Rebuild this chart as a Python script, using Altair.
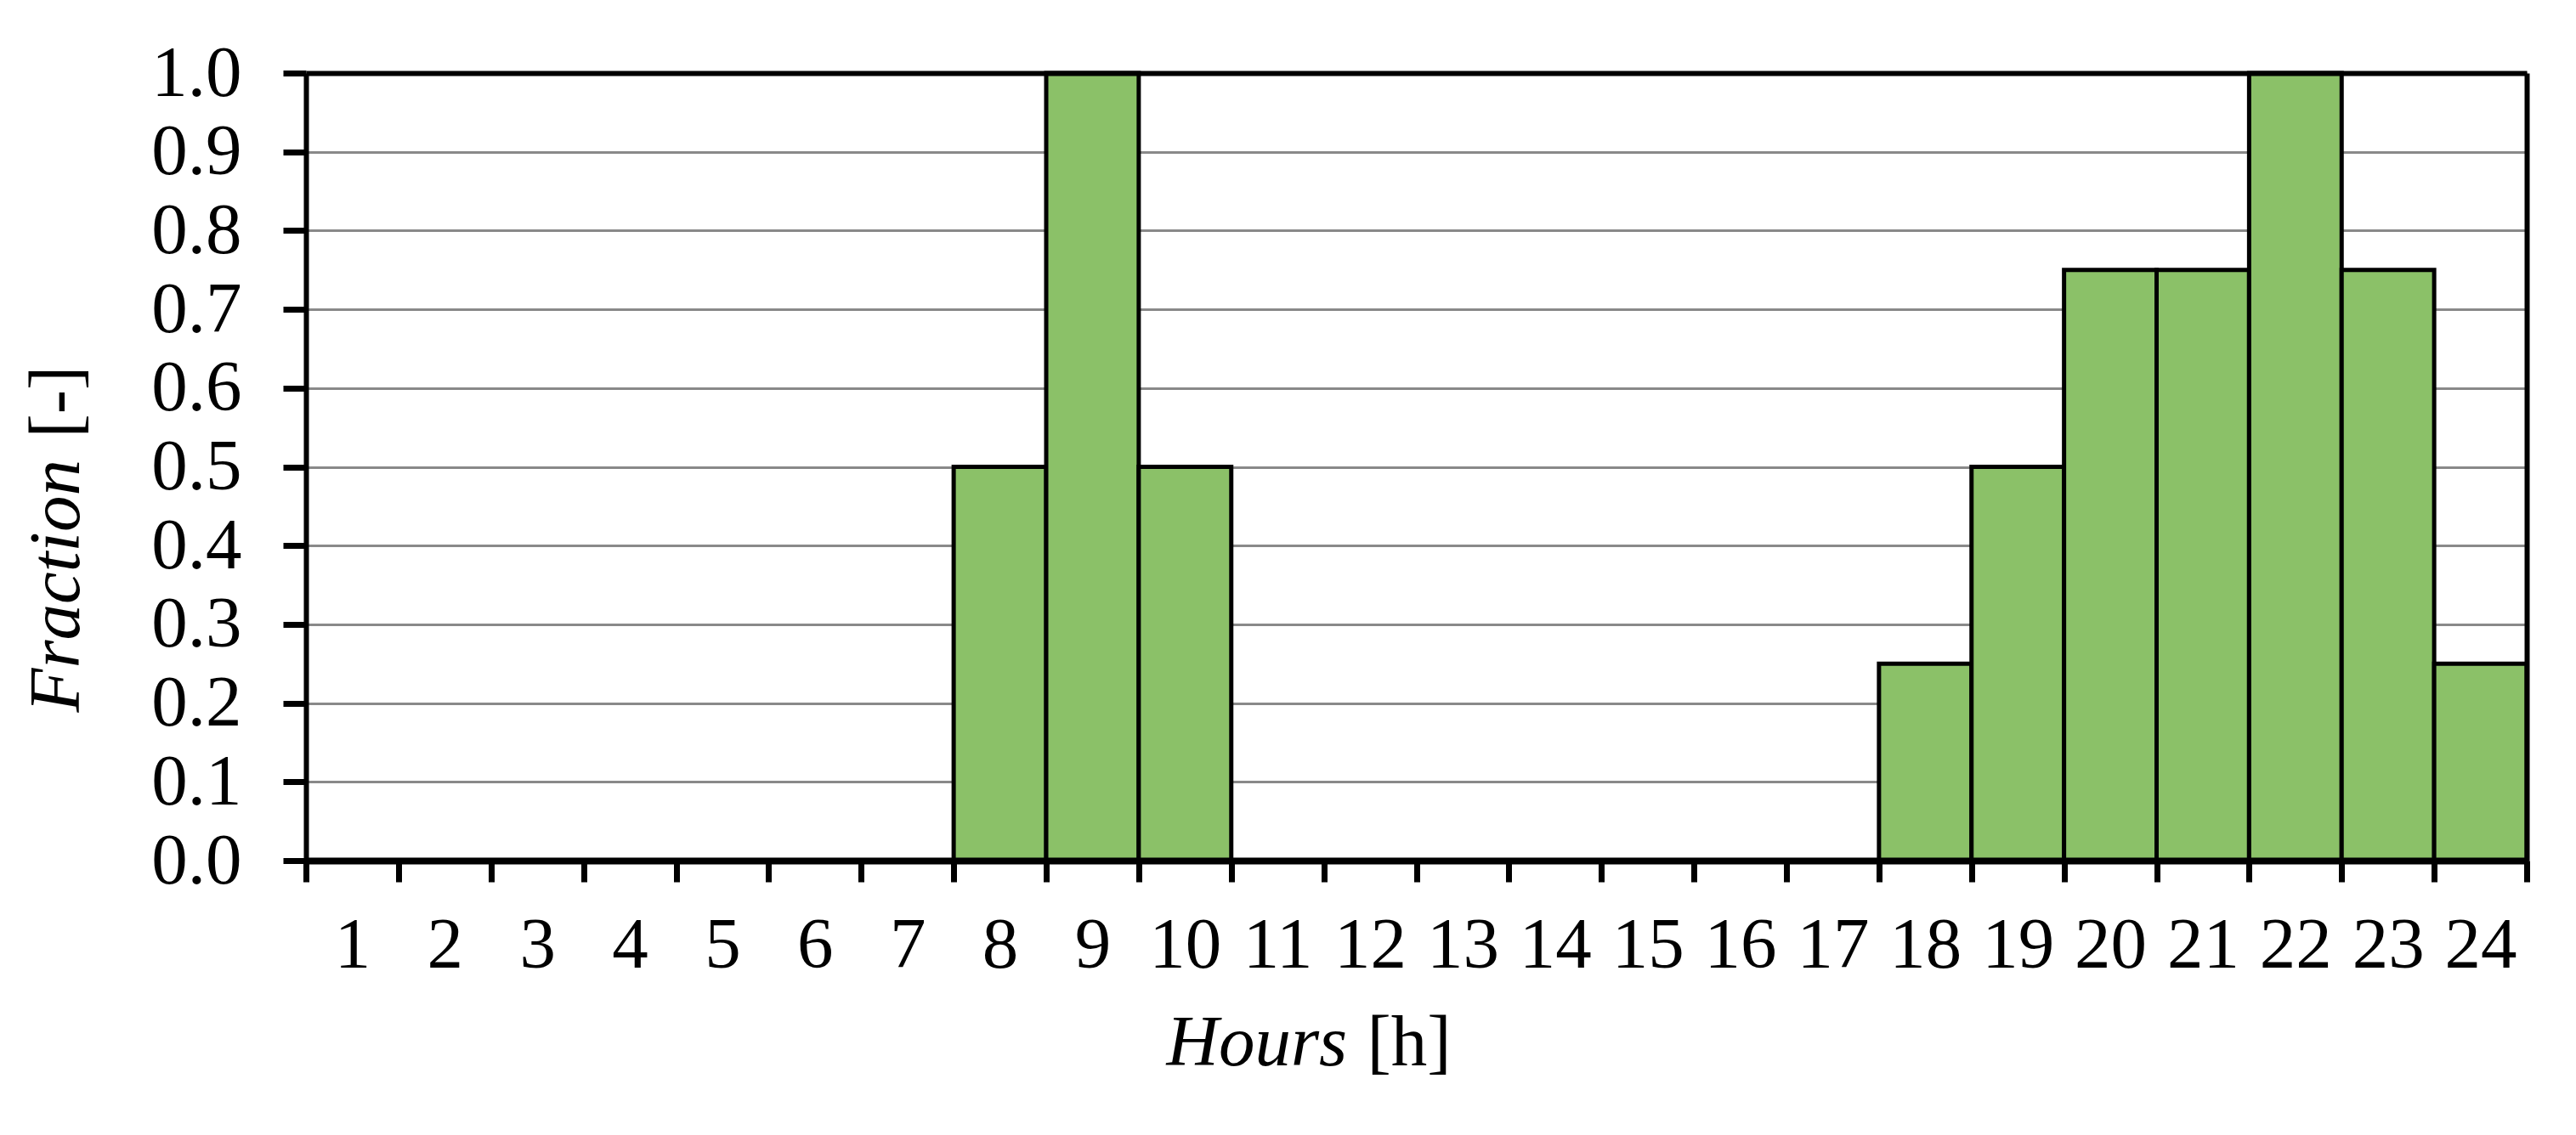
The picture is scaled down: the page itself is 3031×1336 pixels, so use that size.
import altair as alt
import pandas as pd

hours = list(range(1, 25))
fraction = [0, 0, 0, 0, 0, 0, 0, 0.5, 1.0, 0.5, 0, 0, 0, 0, 0, 0, 0, 0.25, 0.5, 0.75, 0.75, 1.0, 0.75, 0.25]
y_ticks = [0.0, 0.1, 0.2, 0.3, 0.4, 0.5, 0.6, 0.7, 0.8, 0.9, 1.0]

df = pd.DataFrame({"hour": hours, "value": fraction})

FONT = "Liberation Serif"
FS = 85
W, H = 2613, 927

base = alt.Chart(df)

xscale = alt.Scale(paddingInner=0, paddingOuter=0)
yscale = alt.Scale(domain=[0, 1], nice=False)

bars = base.mark_bar(color="#8BC168", stroke="black", strokeWidth=5).encode(
    x=alt.X("hour:O", scale=xscale, sort=hours,
            axis=alt.Axis(orient="bottom", title="Hours", labelAngle=0,
                          labelFont=FONT, labelFontSize=FS, labelColor="black",
                          labelPadding=33, labelBaseline="top",
                          tickBand="extent", tickSize=25, tickWidth=7, tickColor="black",
                          domainColor="black", domainWidth=8, grid=False, zindex=1,
                          titleFont=FONT, titleFontSize=FS, titleFontStyle="italic",
                          titleFontWeight="normal", titleColor="black",
                          titleAlign="left", titleBaseline="alphabetic",
                          titleX=1012, titleY=240)),
    y=alt.Y("value:Q", scale=yscale,
            axis=alt.Axis(orient="left", title="Fraction", values=y_ticks, format=".1f",
                          labelFont=FONT, labelFontSize=FS, labelColor="black",
                          labelPadding=49,
                          tickSize=27, tickWidth=7, tickColor="black",
                          domainColor="black", domainWidth=6,
                          grid=True, gridColor="#898989", gridWidth=3,
                          titleFont=FONT, titleFontSize=FS, titleFontStyle="italic",
                          titleFontWeight="normal", titleColor="black",
                          titleAngle=270, titleAlign="left", titleBaseline="alphabetic",
                          titleX=-268, titleY=752)),
)

ghost = base.mark_point(opacity=0).encode(
    x=alt.X("hour:O", scale=xscale, sort=hours,
            axis=alt.Axis(orient="bottom", title="[h]", labels=False, ticks=False,
                          domain=False, grid=False,
                          titleFont=FONT, titleFontSize=FS, titleFontStyle="normal",
                          titleFontWeight="normal", titleColor="black",
                          titleAlign="left", titleBaseline="alphabetic",
                          titleX=1248, titleY=240)),
    y=alt.Y("value:Q", scale=yscale,
            axis=alt.Axis(orient="left", title="[-]", labels=False, ticks=False,
                          domain=False, grid=False,
                          titleFont=FONT, titleFontSize=FS, titleFontStyle="normal",
                          titleFontWeight="normal", titleColor="black",
                          titleAngle=270, titleAlign="left", titleBaseline="alphabetic",
                          titleX=-268, titleY=429)),
)

frame = base.mark_point(opacity=0).encode(
    x=alt.X("hour:O", scale=xscale, sort=hours,
            axis=alt.Axis(orient="top", title=None, labels=False, ticks=False,
                          grid=False, domain=True, domainColor="black", domainWidth=6,
                          zindex=1)),
    y=alt.Y("value:Q", scale=yscale,
            axis=alt.Axis(orient="right", title=None, labels=False, ticks=False,
                          grid=False, domain=True, domainColor="black", domainWidth=6,
                          zindex=1)),
)

chart = alt.layer(bars, ghost, frame).resolve_axis(x="independent", y="independent").properties(
    width=W, height=H,
    autosize=alt.AutoSizeParams(type="none"),
    padding={"left": 352, "top": 78, "right": 50, "bottom": 300},
    background="white",
).configure_view(stroke=None)

chart.save("out.html", embed_options={"renderer": "svg", "actions": False})
